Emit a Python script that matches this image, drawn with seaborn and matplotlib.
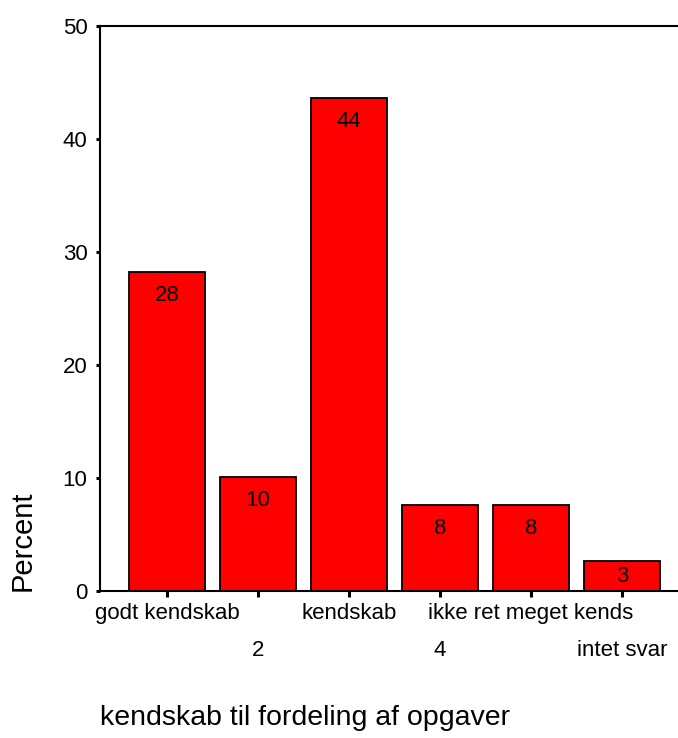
import matplotlib
matplotlib.use('Agg')
import matplotlib.pyplot as plt
import seaborn as sns
import pandas as pd

# kendskab til fordeling af opgaver (procent)
kategorier = ['godt kendskab', '2', 'kendskab', '4', 'ikke ret meget kends', 'intet svar']
procent = [28.2, 10.1, 43.6, 7.6, 7.6, 2.6]
y_ticks = [0, 10, 20, 30, 40, 50]

df = pd.DataFrame({'kategori': kategorier, 'procent': procent})

sns.set_style('white')
plt.rcParams['font.family'] = ['Liberation Sans', 'DejaVu Sans']
plt.rcParams['text.color'] = 'black'
plt.rcParams['xtick.color'] = 'black'
plt.rcParams['ytick.color'] = 'black'

fig = plt.figure(figsize=(6.78, 7.38), dpi=100)
ax = fig.add_axes([100 / 678, 0.1996, 1 - 100 / 678, 0.7656])

sns.barplot(data=df, x='kategori', y='procent', color='#ff0000', saturation=1,
            width=0.83, edgecolor='black', linewidth=1.3, ax=ax)

# tal inde i søjlerne
for i, v in enumerate(procent):
    if v < 5:
        ax.text(i, v / 2, f'{v:.0f}', ha='center', va='center', fontsize=16, color='black')
    else:
        ax.annotate(f'{v:.0f}', (i, v), xytext=(0, -9.5), textcoords='offset points',
                    ha='center', va='top', fontsize=16, color='black')

ax.set_xlim(-0.736, 5.615)
ax.set_ylim(0, 50)
ax.set_yticks(y_ticks)
ax.set_yticklabels([str(t) for t in y_ticks], fontsize=16)

ax.set_xticks(range(len(kategorier)))
ax.set_xticklabels(kategorier, fontsize=16)

ax.tick_params(axis='y', left=True, direction='out', length=3, width=2.2, pad=6)
ax.tick_params(axis='x', bottom=True, direction='out', length=4.5, width=2.2, pad=4)
# skiftevis to rækker med kategorinavne
for i, tick in enumerate(ax.xaxis.get_major_ticks()):
    if i % 2 == 1:
        tick.set_pad(31)
ax.set_xlabel('')
ax.set_ylabel('')

for side in ['left', 'top', 'bottom']:
    ax.spines[side].set_color('black')
    ax.spines[side].set_linewidth(1.5)
ax.spines['right'].set_visible(False)

fig.text(23 / 678, (738 - 591) / 738, 'Percent', rotation=90, ha='center', va='bottom', fontsize=21)
fig.text(100 / 678, (738 - 718) / 738, 'kendskab til fordeling af opgaver', ha='left', va='center', fontsize=20.5)

plt.savefig('out.png', dpi=100)
